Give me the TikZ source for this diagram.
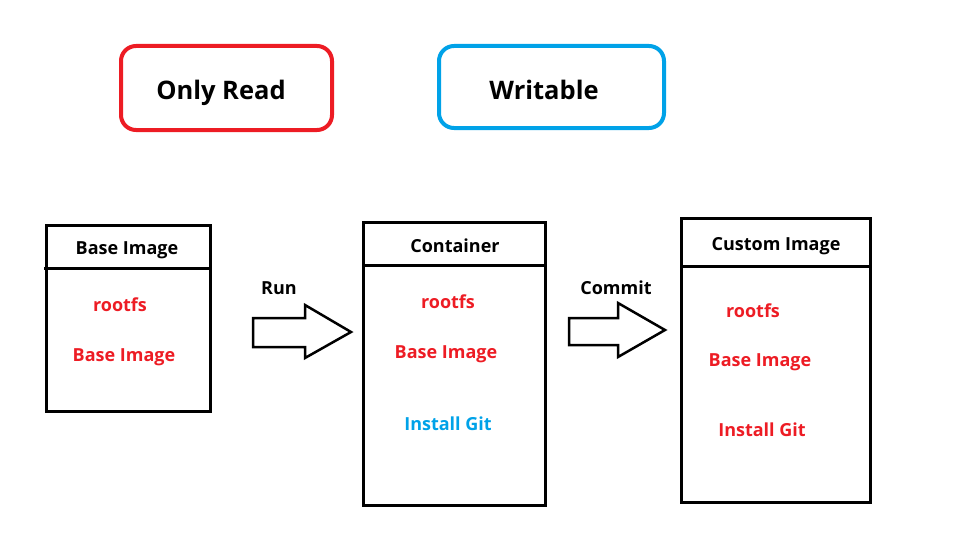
\documentclass[tikz,border=0pt]{standalone}
\usepackage{fontspec}
\setmainfont{Open Sans}
\definecolor{pred}{RGB}{237,28,36}
\definecolor{pblue}{RGB}{0,162,232}
\begin{document}
\begin{tikzpicture}[x=1pt,y=-1pt,
  font=\bfseries\fontsize{18}{22}\selectfont,
  legend/.style={rounded corners=15pt,line width=4pt},
  legendtxt/.style={inner sep=0pt,font=\bfseries\fontsize{25.5}{30}\selectfont},
  panel/.style={draw,line width=3pt},
  bigarrow/.style={draw,line width=2.5pt,line join=miter},
  redtxt/.style={text=pred,inner sep=0pt},
  bluetxt/.style={text=pblue,inner sep=0pt},
  titletxt/.style={inner sep=0pt},
  lbl/.style={inner sep=0pt}]
\useasboundingbox (0,0) rectangle (965,543);
% legend boxes
\draw[legend,pred] (121,46) rectangle (332,130);
\node[legendtxt] (ro) at (221,93) {Only Read};
\draw[legend,pblue] (439,46) rectangle (664,128);
\node[legendtxt] (wr) at (544,90) {Writable};
% box 1
\draw[panel] (46,225) rectangle (210,411);
\draw[panel] (44,268) -- (210,268);
\node[titletxt] (t1) at (127,250) {Base Image};
\node[redtxt] (r1) at (120,305) {rootfs};
\node[redtxt] (b1) at (124,357) {Base Image};
% box 2
\draw[panel] (363,222) rectangle (545,505);
\draw[panel] (363,265) -- (545,265);
\node[titletxt] (t2) at (455,246) {Container};
\node[redtxt] (r2) at (448,302) {rootfs};
\node[redtxt] (b2) at (446,354) {Base Image};
\node[bluetxt] (g2) at (448,424) {Install Git};
% box 3
\draw[panel] (681,218) rectangle (870,502);
\draw[panel] (681,266) -- (872,266);
\node[titletxt] (t3) at (776,246) {Custom Image};
\node[redtxt] (r3) at (753,311) {rootfs};
\node[redtxt] (b3) at (760,362) {Base Image};
\node[redtxt] (g3) at (762,430) {Install Git};
% arrows
\draw[bigarrow] (253,318) -- (305,318) -- (305,305) -- (351,332) -- (305,358) -- (305,347) -- (253,347) -- cycle;
\node[lbl] (run) at (279,288) {Run};
\draw[bigarrow] (569,318) -- (618,318) -- (618,303) -- (665,330) -- (618,357) -- (618,345) -- (569,345) -- cycle;
\node[lbl] (commit) at (616,288) {Commit};
\end{tikzpicture}
\end{document}
